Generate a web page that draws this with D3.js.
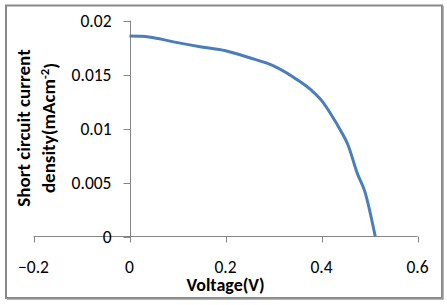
<!DOCTYPE html>
<html>
<head>
<meta charset="utf-8">
<script src="https://cdn.jsdelivr.net/npm/d3@7/dist/d3.min.js"></script>
<style>
  body { margin: 0; background: #fff; }
  svg { display: block; }
  text { font-family: Carlito, Calibri, Lato, sans-serif; fill: #000; }
</style>
</head>
<body>
<div id="chart"></div>
<script>
// voltage (V) and current density readings
const voltage = [0, 0.025, 0.05, 0.1, 0.15, 0.2, 0.25, 0.3, 0.35, 0.38, 0.4, 0.42, 0.44, 0.455, 0.475, 0.49, 0.512];
const current = [0.01857, 0.01855, 0.0184, 0.01795, 0.01755, 0.0172, 0.01655, 0.0158, 0.0145, 0.0135, 0.0126, 0.0113, 0.0098, 0.0085, 0.0058, 0.0042, 0];

const xTicks = [-0.2, 0, 0.2, 0.4, 0.6];
const yTicks = [0, 0.005, 0.01, 0.015, 0.02];

const W = 447, H = 305;

const svg = d3.select("#chart").append("svg")
    .attr("width", W)
    .attr("height", H);

// chart frame
svg.append("rect")
    .attr("x", 6).attr("y", 5.5)
    .attr("width", 436).attr("height", 292.5)
    .attr("fill", "#fff")
    .attr("stroke", "#888")
    .attr("stroke-width", 2);
svg.append("path")
    .attr("d", "M443,6V299H7")
    .attr("fill", "none")
    .attr("stroke", "#999")
    .attr("stroke-width", 1.5);

const x = d3.scaleLinear().domain([-0.2, 0.6]).range([33.5, 417.5]);
const y = d3.scaleLinear().domain([0, 0.02]).range([236.5, 20.5]);

const axisColor = "#868686";
const tickFont = "17.5px";

// x axis sits at y = 0, labels pushed down
const gx = svg.append("g").attr("transform", `translate(0,${y(0)})`);
gx.append("line")
    .attr("x1", x(-0.2)).attr("x2", x(0.6))
    .attr("stroke", axisColor);
gx.selectAll(".tk").data(xTicks).enter().append("line")
    .attr("x1", d => Math.round(x(d)) + 0.5).attr("x2", d => Math.round(x(d)) + 0.5)
    .attr("y1", 0).attr("y2", 6)
    .attr("stroke", axisColor);
gx.selectAll(".lb").data(xTicks).enter().append("text")
    .attr("x", d => x(d))
    .attr("y", 36.5)
    .attr("text-anchor", "middle")
    .style("font-size", tickFont)
    .text(d => d3.format("")(d));

// y axis sits at x = 0
const gy = svg.append("g").attr("transform", `translate(${Math.round(x(0)) + 0.5},0)`);
gy.append("line")
    .attr("y1", y(0.02)).attr("y2", y(0))
    .attr("stroke", axisColor);
gy.selectAll(".tk").data(yTicks).enter().append("line")
    .attr("y1", d => Math.round(y(d)) + 0.5).attr("y2", d => Math.round(y(d)) + 0.5)
    .attr("x1", -7).attr("x2", 0)
    .attr("stroke", axisColor);
gy.selectAll(".lb").data(yTicks).enter().append("text")
    .attr("x", -19)
    .attr("y", d => y(d))
    .attr("dy", "0.35em")
    .attr("text-anchor", "end")
    .style("font-size", tickFont)
    .text(d => d3.format("")(d));

// curve
const pts = voltage.map((v, i) => [v, current[i]]);
svg.append("path")
    .datum(pts)
    .attr("fill", "none")
    .attr("stroke", "#4A7EBB")
    .attr("stroke-width", 3)
    .attr("stroke-linejoin", "round")
    .attr("d", d3.line().x(d => x(d[0])).y(d => y(d[1])).curve(d3.curveMonotoneX));

// axis titles
svg.append("text")
    .attr("x", (x(-0.2) + x(0.6)) / 2)
    .attr("y", 291)
    .attr("text-anchor", "middle")
    .style("font-size", "18px")
    .style("font-weight", "bold")
    .text("Voltage(V)");

const yt = svg.append("text")
    .attr("transform", "translate(0,128) rotate(-90)")
    .attr("text-anchor", "middle")
    .style("font-size", "19px")
    .style("font-weight", "bold");
yt.append("tspan").attr("x", 0).attr("y", 29.5).text("Short circuit current");
const l2 = yt.append("tspan").attr("x", 0).attr("y", 54.5);
l2.append("tspan").text("density(mAcm");
l2.append("tspan").attr("dy", "-0.45em").style("font-size", "12.5px").text("-2");
l2.append("tspan").attr("dy", "0.45em").text(")");
</script>
</body>
</html>
